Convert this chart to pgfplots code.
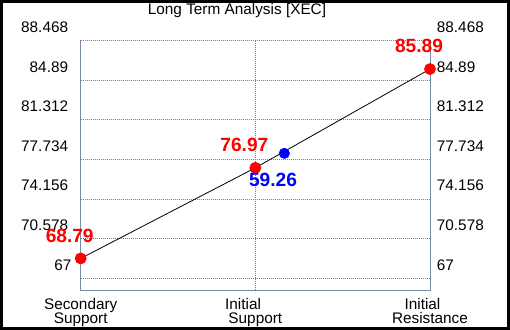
\documentclass[border=0pt]{standalone}
\usepackage{fontspec}
\setmainfont{Liberation Sans}
\usepackage{pgfplots}
\pgfplotsset{compat=1.18}
\definecolor{gridc}{RGB}{112,128,160}
\definecolor{axc}{RGB}{120,138,170}
\definecolor{redp}{RGB}{255,0,0}
\definecolor{bluep}{RGB}{0,0,255}
\begin{document}
\begin{tikzpicture}
\path[use as bounding box] (0,0) rectangle (510bp,330bp);
\fill[white] (0,0) rectangle (510bp,330bp);
\begin{axis}[
  at={(80.7bp,40bp)}, anchor=south west,
  scale only axis, width=349.3bp, height=249.5bp,
  xmin=0, xmax=2, ymin=65.94, ymax=88.468,
  clip=false,
  axis line style={draw=none},
  major tick length=0pt,
  xtick={0,1,2},
  xticklabels={{Secondary\\Support},{\hspace*{-24.6bp}Initial\\Support},{\hspace*{-15bp}Initial\\Resistance}},
  xticklabel style={anchor=north, align=center, inner sep=0pt, yshift=-8.1bp,
    font=\fontsize{15.4}{14.5}\selectfont},
  ytick={67,70.578,74.156,77.734,81.312,84.89,88.468},
  yticklabels={{67\hspace*{-3.4bp}},70.578,74.156,77.734,81.312,84.89,88.468},
  yticklabel pos=left,
  yticklabel style={anchor=east, inner sep=0pt, xshift=-12.4bp, yshift=13.3bp,
    font=\fontsize{15.4}{18}\selectfont},
  grid=major,
  major grid style={gridc, line width=0.8bp, dash pattern=on 1bp off 1bp},
  /pgf/number format/assume math mode=true,
]
\draw[axc, line width=1bp] (rel axis cs:0,1) -- (rel axis cs:0,0) -- (rel axis cs:1,0) -- (rel axis cs:1,1);
\addplot[black, line width=0.8bp, mark=*, mark size=5.5bp,
  mark options={fill=redp, draw=redp},
  point meta=explicit symbolic, nodes near coords,
  nodes near coords style={anchor=center, inner sep=0pt, xshift=-11bp, yshift=22.8bp,
    text=redp, font=\bfseries\fontsize{19.2}{22}\selectfont}]
  coordinates {(0,68.79)[68.79] (1,76.97)[76.97] (2,85.89)[85.89]};
\addplot[only marks, mark=*, mark size=5.3bp,
  mark options={fill=bluep, draw=bluep},
  point meta=explicit symbolic, nodes near coords,
  nodes near coords style={anchor=center, inner sep=0pt, xshift=-11.3bp, yshift=-26.7bp,
    text=bluep, font=\bfseries\fontsize{19.2}{22}\selectfont}]
  coordinates {(1.166,78.28)[59.26]};
\end{axis}
\begin{axis}[
  at={(80.7bp,40bp)}, anchor=south west,
  scale only axis, width=349.3bp, height=249.5bp,
  xmin=0, xmax=2, ymin=65.94, ymax=88.468,
  axis line style={draw=none},
  major tick length=0pt,
  xtick=\empty,
  ytick={67,70.578,74.156,77.734,81.312,84.89,88.468},
  yticklabels={67,70.578,74.156,77.734,81.312,84.89,88.468},
  yticklabel pos=right,
  yticklabel style={anchor=west, inner sep=0pt, xshift=6.7bp, yshift=13.3bp,
    font=\fontsize{15.4}{18}\selectfont},
]
\end{axis}
\node[anchor=base, inner sep=0pt, font=\fontsize{15.4}{18}\selectfont] at (237bp,315bp) {Long Term Analysis [XEC]};
\draw[black, line width=3bp] (1.5bp,1.5bp) rectangle (508.5bp,328.5bp);
\end{tikzpicture}
\end{document}
